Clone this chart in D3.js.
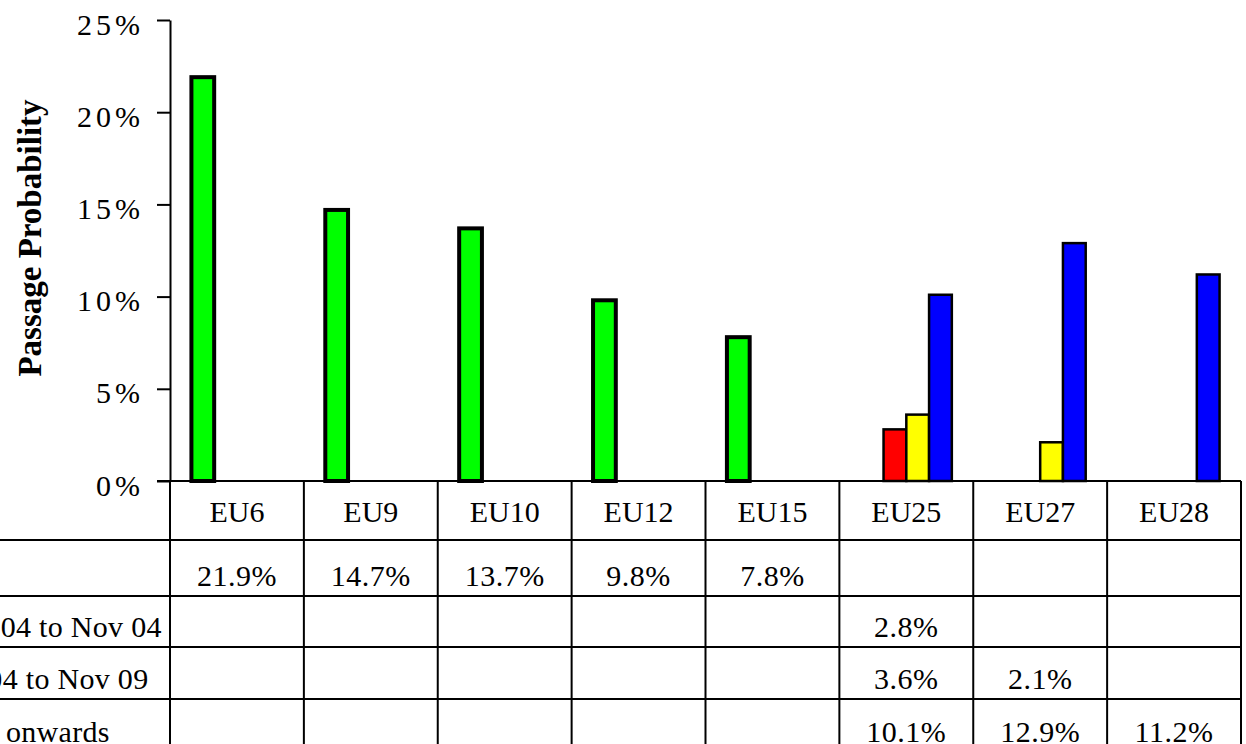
<!DOCTYPE html>
<html>
<head>
<meta charset="utf-8">
<script src="https://cdn.jsdelivr.net/npm/d3@7"></script>
<style>
  body { margin: 0; background: #fff; }
  text { font-family: "Liberation Serif", "Times New Roman", serif; fill: #000; }
</style>
</head>
<body>
<svg id="Chart" width="1246" height="744"></svg>
<script>
const categories  = ["EU6", "EU9", "EU10", "EU12", "EU15", "EU25", "EU27", "EU28"];
const seriesNames = ["Past", "May 04 to Nov 04", "Jun 04 to Nov 09", "2010 onwards"];
const seriesColors = ["#00ff00", "#ff0000", "#ffff00", "#0000ff"];
const pastValues   = [21.9, 14.7, 13.7, 9.8, 7.8, null, null, null];
const firstValues  = [null, null, null, null, null, 2.8, null, null];
const secondValues = [null, null, null, null, null, 3.6, 2.1, null];
const laterValues  = [null, null, null, null, null, 10.1, 12.9, 11.2];
const yTicks = [0, 5, 10, 15, 20, 25];

const series = seriesNames.map((name, i) => ({
  name: name,
  color: seriesColors[i],
  values: [pastValues, firstValues, secondValues, laterValues][i]
}));

const svg = d3.select("#Chart");
const x0 = d3.scaleBand().domain(categories).range([170, 1241]);
const x1 = d3.scaleBand().domain(seriesNames)
  .range([x0.bandwidth() * 0.16, x0.bandwidth() * 0.84]);
const y = d3.scaleLinear().domain([0, 25]).range([481, 20]);

// table rows: header row then one row per series
const rowTops = [481, 540, 596, 647, 699, 752];

drawAxis();
drawBars();
drawTable();

function drawAxis() {
  const ax = svg.append("g")
    .attr("transform", "translate(170,0)")
    .call(d3.axisLeft(y).tickValues(yTicks).tickFormat(d => d + "%")
      .tickSize(13).tickSizeOuter(0).tickPadding(13));
  ax.select(".domain").attr("stroke", "#000").attr("stroke-width", 2);
  ax.selectAll(".tick line").attr("stroke", "#000").attr("stroke-width", 2);
  ax.selectAll(".tick text")
    .attr("dy", "0.47em")
    .style("font-size", "30px")
    .style("letter-spacing", "4px")
    .style("font-family", '"Liberation Serif", serif');

  svg.append("text")
    .attr("transform", "translate(41,238) rotate(-90)")
    .attr("text-anchor", "middle")
    .style("font-size", "33px")
    .style("font-weight", "bold")
    .text("Passage Probability");
}

function drawBars() {
  const g = svg.append("g");
  series.forEach((s, si) => {
    const pts = categories.map((c, i) => ({cat: c, v: s.values[i]}))
      .filter(d => d.v !== null);
    g.selectAll(null)
      .data(pts)
      .join("rect")
      .attr("x", d => x0(d.cat) + x1(s.name))
      .attr("y", d => y(d.v))
      .attr("width", x1.bandwidth())
      .attr("height", d => y(0) - y(d.v))
      .attr("fill", s.color)
      .attr("stroke", "#000")
      .attr("stroke-width", si === 0 ? 4 : 2.5);
  });
}

function drawTable() {
  const g = svg.append("g");
  const right = x0.range()[1];
  // horizontal rules
  rowTops.slice(1, 5).forEach(t => {
    g.append("line")
      .attr("x1", 0).attr("x2", right)
      .attr("y1", t).attr("y2", t)
      .attr("stroke", "#000").attr("stroke-width", 2);
  });
  g.append("line")
    .attr("x1", 157).attr("x2", right)
    .attr("y1", 481).attr("y2", 481)
    .attr("stroke", "#000").attr("stroke-width", 2);
  // vertical rules
  categories.concat(["end"]).forEach((c, i) => {
    const xx = i < categories.length ? x0(c) : right;
    g.append("line")
      .attr("x1", xx).attr("x2", xx)
      .attr("y1", 481).attr("y2", 744)
      .attr("stroke", "#000").attr("stroke-width", 2);
  });
  // header
  g.selectAll(null)
    .data(categories)
    .join("text")
    .attr("x", d => x0(d) + x0.bandwidth() / 2)
    .attr("y", rowTops[1] - 18)
    .attr("text-anchor", "middle")
    .style("font-size", "30px")
    .text(d => d);
  // value rows (the label column is cropped off at the left edge, as in the source)
  series.forEach((s, si) => {
    const bottom = rowTops[si + 2];
    if (si > 0) {
      g.append("text")
        .attr("x", -63)
        .attr("y", bottom - 10)
        .style("font-size", "30px")
        .style("letter-spacing", "0.3px")
        .text(s.name);
    }
    g.selectAll(null)
      .data(categories.map((c, i) => ({cat: c, v: s.values[i]})).filter(d => d.v !== null))
      .join("text")
      .attr("x", d => x0(d.cat) + x0.bandwidth() / 2)
      .attr("y", bottom - 10)
      .attr("text-anchor", "middle")
      .style("font-size", "30px")
      .style("letter-spacing", "0.5px")
      .text(d => d.v.toFixed(1) + "%");
  });
}
</script>
</body>
</html>
